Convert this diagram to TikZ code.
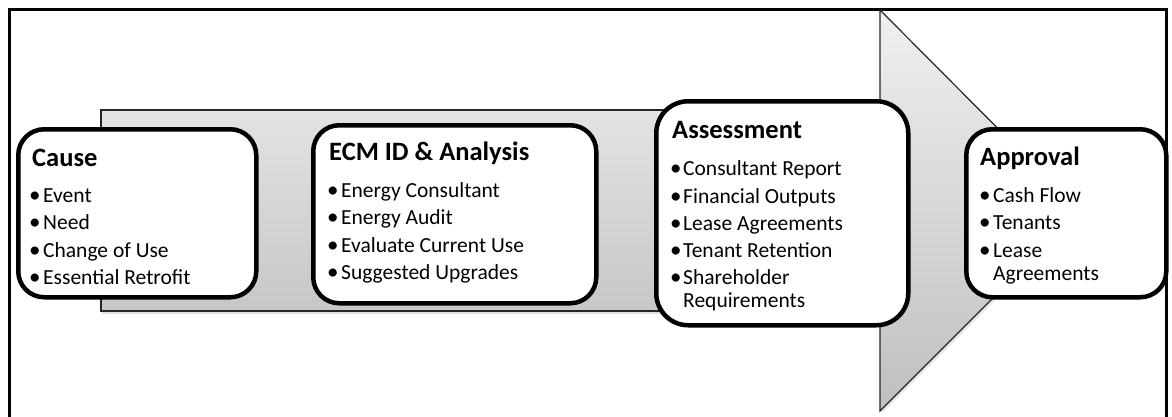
\documentclass[tikz,border=0pt]{standalone}
\usepackage{fontspec}
\setmainfont{Carlito}
\usetikzlibrary{shadows}
\newcommand\stageitem[5]{% name, bullet x, text x, baseline y, text
  \node[bul] (#1b) at (#2,#4+0.5) {•};
  \node[itm] (#1) at (#3,#4) {#5};}
\begin{document}
\begin{tikzpicture}[x=1pt,y=-1pt,
  stagebox/.style={draw=black, line width=4.5pt, rounded corners=26pt, fill=white, anchor=north west, inner sep=0pt},
  ttl/.style={anchor=base west, inner sep=0pt, font=\fontsize{26.5}{30}\selectfont\bfseries},
  itm/.style={anchor=base west, inner sep=0pt, font=\fontsize{21.5}{26}\selectfont},
  bul/.style={anchor=base west, inner sep=0pt, font=\fontsize{23}{30}\selectfont},
  bandshade/.style={draw=black!85, line width=1.2pt, top color=black!11, bottom color=black!22,
     drop shadow={shadow xshift=1pt, shadow yshift=-3pt, opacity=0.2, fill=black!60}},
  headshade/.style={draw=black!85, line width=1.2pt, top color=black!6, bottom color=black!25,
     drop shadow={shadow xshift=2pt, shadow yshift=-2pt, opacity=0.15, fill=black!60}},
  frame/.style={draw=black, line width=3pt}
]
\useasboundingbox (0,0) rectangle (1172,416);
\clip (0,0) rectangle (1172,416);
\fill[white] (0,0) rectangle (1172,416);
% frame (open at the bottom, cut by the page)
\draw[frame] (9.5,440) -- (9.5,9.5) -- (1166.5,9.5) -- (1166.5,440);
% arrow body and head
\draw[bandshade] (101,110) rectangle (880,311);
\coordinate (headtop) at (880,10);
\coordinate (headtip) at (1080,211);
\coordinate (headbot) at (880,411);
\draw[headshade] (headtop) -- (headtip) -- (headbot) -- cycle;
% stage boxes
\node[stagebox, minimum width=238pt, minimum height=168pt] (cause) at (16,127) {};
\node[stagebox, minimum width=283pt, minimum height=178pt] (ecm) at (311,123) {};
\node[stagebox, minimum width=252pt, minimum height=224pt, rounded corners=32pt] (assess) at (654,99) {};
\node[stagebox, minimum width=200pt, minimum height=168pt] (approval) at (964,127) {};
% Cause
\node[ttl] (causet) at (32,166) {Cause};
\stageitem{c1}{29}{43}{202}{Event}
\stageitem{c2}{29}{43}{229}{Need}
\stageitem{c3}{29}{43}{257}{Change of Use}
\stageitem{c4}{29}{43}{284}{Essential Retrofit}
% ECM
\node[ttl] (ecmt) at (329,160) {ECM ID \& Analysis};
\stageitem{e1}{327}{341}{197}{Energy Consultant}
\stageitem{e2}{327}{341}{224}{Energy Audit}
\stageitem{e3}{327}{341}{252}{Evaluate Current Use}
\stageitem{e4}{327}{341}{279}{Suggested Upgrades}
% Assessment
\node[ttl] (assesst) at (672,138) {Assessment};
\stageitem{a1}{670}{683}{175}{Consultant Report}
\stageitem{a2}{670}{683}{203}{Financial Outputs}
\stageitem{a3}{670}{683}{230}{Lease Agreements}
\stageitem{a4}{670}{683}{257}{Tenant Retention}
\stageitem{a5}{670}{683}{284}{Shareholder}
\node[itm] (a5w) at (683,307) {Requirements};
% Approval
\node[ttl] (approvalt) at (980,165) {Approval};
\stageitem{p1}{979}{993}{202}{Cash Flow}
\stageitem{p2}{979}{993}{229}{Tenants}
\stageitem{p3}{979}{993}{257}{Lease}
\node[itm] (p3w) at (993,280) {Agreements};
\end{tikzpicture}
\end{document}
